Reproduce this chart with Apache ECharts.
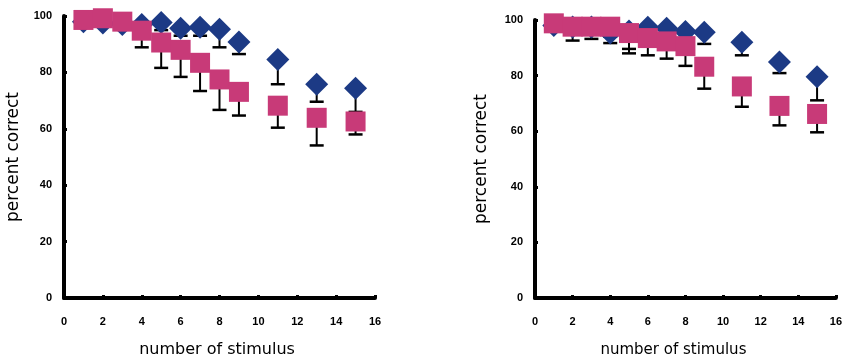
<!DOCTYPE html>
<html><head><meta charset="utf-8">
<script src="https://cdn.jsdelivr.net/npm/echarts@6/dist/echarts.min.js"></script>
<style>html,body{margin:0;padding:0;background:#fff}#c{width:845px;height:363px}</style>
</head><body><div id="c"></div>
<script>
var xs = [1, 2, 3, 4, 5, 6, 7, 8, 9, 11, 13, 15];
var xTicks = [0, 2, 4, 6, 8, 10, 12, 14, 16];
var yTicks = [0, 20, 40, 60, 80, 100];
// left panel
var leftBlue     = [98, 97.5, 97, 97, 97.7, 95.7, 96, 95.3, 90.8, 84.6, 75.8, 74.4];
var leftBlueLow  = [97, 96.5, 96, 95, 95, 93, 93, 88.9, 86.5, 75.8, 69.6, 66];
var leftPink     = [98.6, 99.2, 98, 94.8, 90.6, 88, 83.4, 77.5, 73.1, 68.2, 63.9, 62.6];
var leftPinkLow  = [97.5, 98, 96.5, 88.9, 81.6, 78.4, 73.4, 66.7, 64.7, 60.4, 54.1, 58];
// right panel
var rightBlue    = [98, 97.5, 97.5, 95.3, 96, 97.4, 97, 95.9, 95.6, 92, 84.9, 79.6];
var rightBlueLow = [97, 96, 96, 94, 89.6, 92, 92, 91, 91.4, 87.3, 80.9, 71.1];
var rightPink    = [98.8, 97.6, 97.6, 97.6, 95.3, 93.5, 92.3, 90.6, 83.2, 76.1, 69.1, 66.2];
var rightPinkLow = [97.5, 92.6, 93.2, 91.7, 88, 87.3, 86.1, 83.5, 75.3, 68.8, 62.1, 59.6];

var BLUE = '#1c3a85', PINK = '#c83a78';
var NAMEFONT = 'DejaVu Sans';
var TICKFONT = 'Liberation Sans, Arial';
var chart = echarts.init(document.getElementById('c'));

function pts(vals){ return xs.map(function(x,i){ return [x, vals[i]]; }); }
function errData(vals, lows){ return xs.map(function(x,i){ return [x, vals[i], lows[i]]; }); }
function errSeries(vals, lows, gi){
  return {
    type: 'custom', xAxisIndex: gi, yAxisIndex: gi, z: 2,
    data: errData(vals, lows),
    renderItem: function(params, api){
      var top = api.coord([api.value(0), api.value(1)]);
      var bot = api.coord([api.value(0), api.value(2)]);
      var hw = 7;
      return { type: 'group', children: [
        { type: 'line', shape: {x1: top[0], y1: top[1], x2: bot[0], y2: bot[1]}, style: {stroke: '#000', lineWidth: 2} },
        { type: 'line', shape: {x1: bot[0]-hw, y1: bot[1], x2: bot[0]+hw, y2: bot[1]}, style: {stroke: '#000', lineWidth: 2.5} }
      ]};
    }
  };
}
function xAxis(gi, gap, fs, padR){
  return { type: 'value', gridIndex: gi, min: 0, max: 16, interval: 2,
    name: 'number of stimulus', nameLocation: 'middle', nameGap: gap,
    nameTextStyle: {fontSize: fs, color: '#000', fontFamily: NAMEFONT, padding: [0, padR, 0, 0]},
    axisLine: {show: true, onZero: false, lineStyle: {color: '#000', width: 4}},
    axisTick: {show: true, inside: true, length: 3, lineStyle: {color: '#000', width: 3}},
    axisLabel: {fontSize: 11, color: '#000', margin: 18, fontWeight: 'bold', fontFamily: TICKFONT},
    splitLine: {show: false} };
}
function yAxis(gi, gap){
  return { type: 'value', gridIndex: gi, min: 0, max: 100, interval: 20,
    name: 'percent correct', nameLocation: 'middle', nameGap: gap,
    nameTextStyle: {fontSize: 17, color: '#000', fontFamily: NAMEFONT},
    axisLine: {show: true, lineStyle: {color: '#000', width: 4}},
    axisTick: {show: true, inside: true, length: 3, lineStyle: {color: '#000', width: 3}},
    axisLabel: {fontSize: 11, color: '#000', margin: 12, fontWeight: 'bold', fontFamily: TICKFONT},
    splitLine: {show: false} };
}
function scat(vals, gi, sym, size, color, z){
  return { type: 'scatter', xAxisIndex: gi, yAxisIndex: gi, symbol: sym, symbolSize: size,
    itemStyle: {color: color, opacity: 1}, data: pts(vals), z: z };
}
chart.setOption({
  animation: false,
  grid: [
    {left: 64, top: 16, width: 311, height: 285},
    {left: 535, top: 20, width: 302, height: 283}
  ],
  xAxis: [xAxis(0, 44, 16, 5), xAxis(1, 45, 15, 24)],
  yAxis: [yAxis(0, 42), yAxis(1, 45)],
  series: [
    errSeries(leftBlue, leftBlueLow, 0),
    scat(leftBlue, 0, 'diamond', 23, BLUE, 3),
    errSeries(leftPink, leftPinkLow, 0),
    scat(leftPink, 0, 'rect', 20, PINK, 5),
    errSeries(rightBlue, rightBlueLow, 1),
    scat(rightBlue, 1, 'diamond', 23, BLUE, 3),
    errSeries(rightPink, rightPinkLow, 1),
    scat(rightPink, 1, 'rect', 20, PINK, 5)
  ]
});
</script></body></html>
